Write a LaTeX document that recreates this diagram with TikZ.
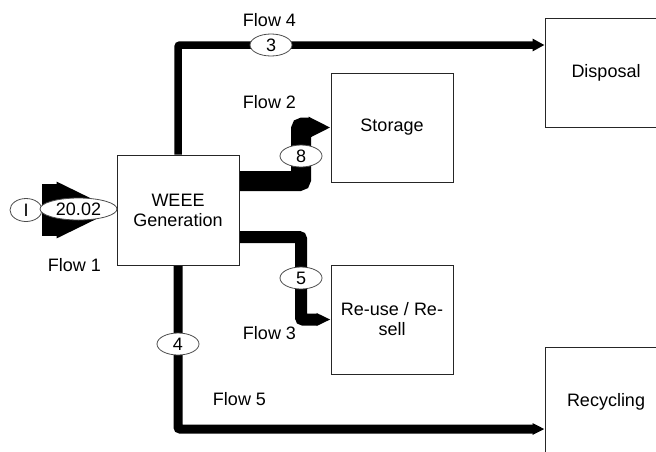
\documentclass[tikz,border=0pt]{standalone}
\usepackage{fontspec}
\setmainfont{Liberation Sans}
\usetikzlibrary{arrows.meta,shapes.geometric,backgrounds}

\begin{document}
\begin{tikzpicture}[x=0.5pt,y=-0.5pt,font=\fontsize{9}{10}\selectfont,
  box/.style={draw=black!85,line width=0.5pt,minimum width=61pt,minimum height=54.5pt,inner sep=0pt,align=center},
  qty/.style={ellipse,draw=black!70,fill=white,line width=0.4pt,inner sep=0pt,minimum width=21pt,minimum height=11pt},
  flow/.style={line width=#1,rounded corners=1pt}]
  \useasboundingbox (0,0) rectangle (656,451);
  \clip (0,0) rectangle (656,451);
  % boxes
  \node[box,minimum height=55pt] (gen) at (178,210) {WEEE\\Generation};
  \node[box] (sto) at (392,127.5) {Storage};
  \node[box] (reu) at (392,319.5) {Re-use / Re-\\sell};
  \node[box] (disp) at (606,72.5) {Disposal};
  \node[box] (rec) at (606,401.5) {Recycling};
  % quantities
  \node[qty,minimum width=16pt,minimum height=11.5pt] (src) at (26,210) {I};
  \node[qty,minimum width=38.5pt] (n20) at (78.5,209) {20.02};
  \node[qty] (n3) at (271,45) {3};
  \node[qty] (n8) at (301,156) {8};
  \node[qty] (n5) at (301,278) {5};
  \node[qty] (n4) at (178,344) {4};
  % flow names
  \node (f1) at (74.5,265) {Flow 1};
  \node (f2) at (269.5,102) {Flow 2};
  \node (f3) at (269.5,333) {Flow 3};
  \node (f4) at (269.5,20) {Flow 4};
  \node (f5) at (239.5,399) {Flow 5};
  % flows
  \begin{scope}[on background layer]
    \draw[flow=26pt,-{Triangle[length=30pt,width=26pt]}] (src) -- (gen);
    \draw[flow=3.75pt,-{Triangle[length=6pt,width=6pt]}] (gen.north) |- (n3.center) -- (n3.center -| disp.west);
    \draw[flow=10pt,-{Triangle[length=11pt,width=10pt]}] ([yshift=14.5pt]gen.east) -| (n8.center) |- (sto.west);
    \draw[flow=6pt,-{Triangle[length=7pt,width=6pt]}] ([yshift=-13.5pt]gen.east) -| (n5.center) |- (reu.west);
    \draw[flow=4.5pt,-{Triangle[length=6pt,width=5.5pt]}] (gen.south) -- (n4.center) |- ([yshift=-13.75pt]rec.west);
  \end{scope}
\end{tikzpicture}
\end{document}
